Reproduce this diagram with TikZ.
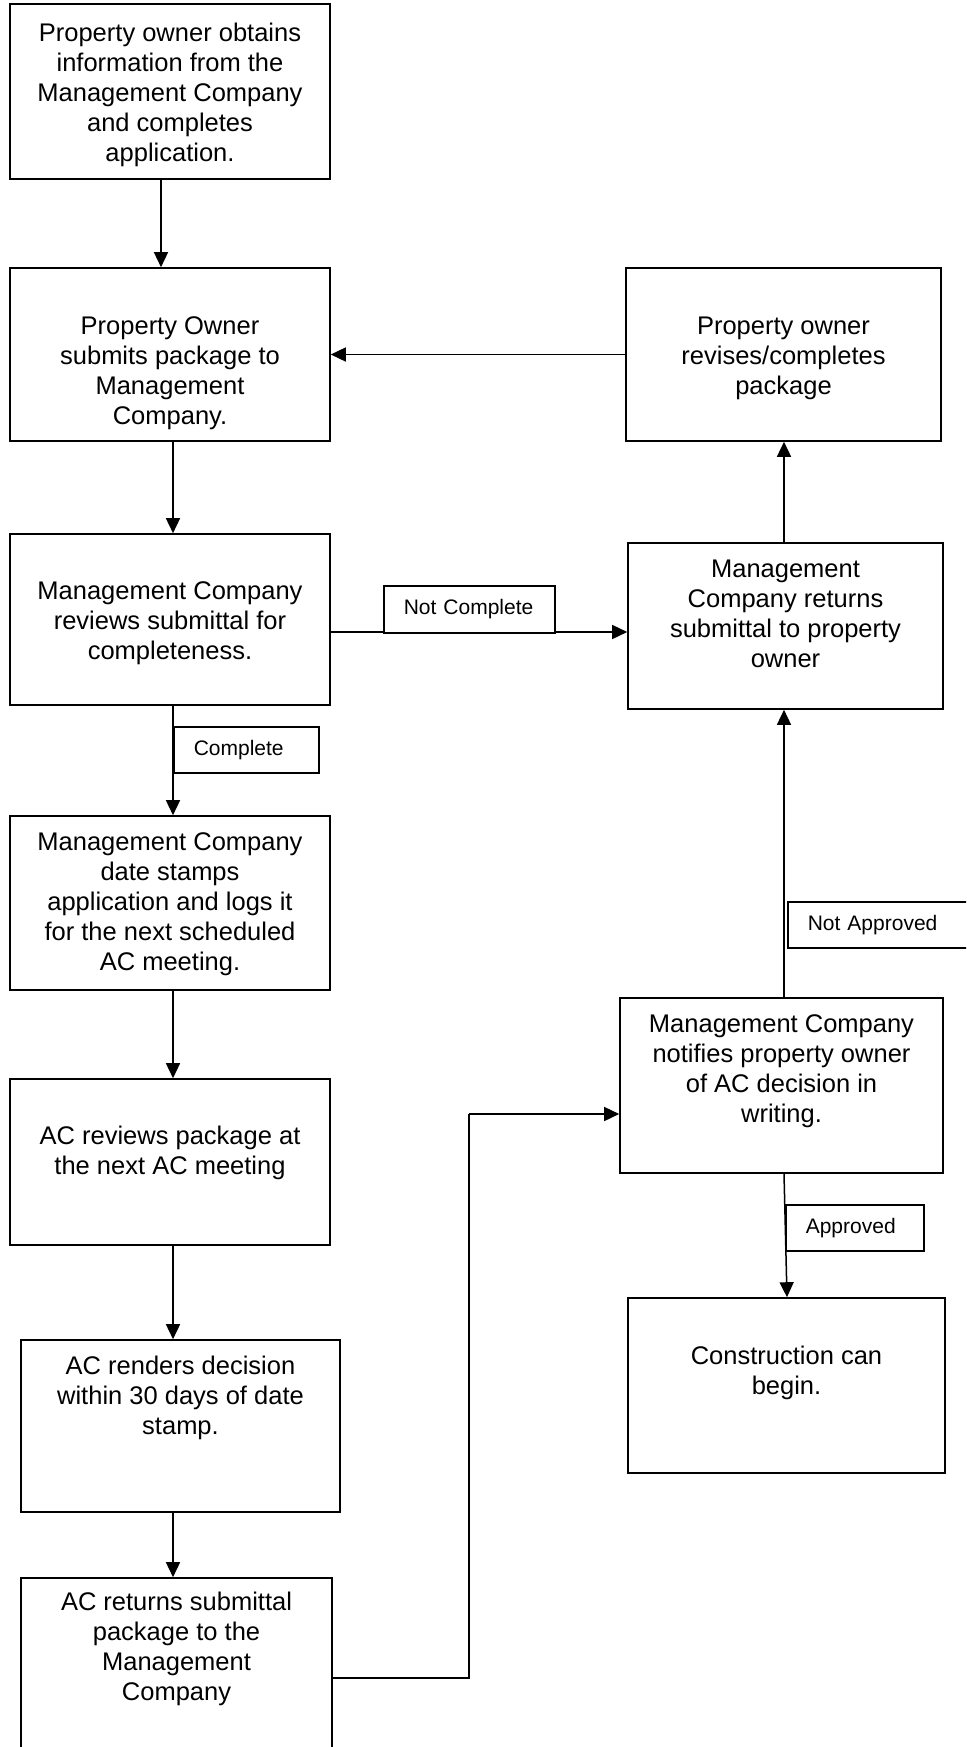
\documentclass[tikz,border=0pt]{standalone}
\usepackage{fontspec}
\setmainfont{Liberation Sans}
\usetikzlibrary{arrows.meta}
\tikzset{
  box/.style={draw, line width=1.6pt, rectangle, inner sep=0pt},
  txt/.style={align=center, font=\fontsize{25.5}{30}\selectfont, inner sep=0pt,
    execute at begin node=\strut, execute at end node=\strut},
  lab/.style={draw, line width=1.6pt, fill=white, font=\fontsize{21}{25}\selectfont,
    inner xsep=20pt, inner ysep=0pt, align=left, anchor=north west},
  arr/.style={line width=1.5pt, -{Triangle[length=15pt,width=14pt]}},
  ln/.style={line width=1.5pt},
}
\begin{document}
\begin{tikzpicture}[x=1pt,y=-1pt]
\useasboundingbox (0,0) rectangle (966,1747);
\clip (0,0) rectangle (966,1747);

% boxes
\node[box, minimum width=320pt, minimum height=175pt] (b1) at (170,91.5) {};
\node[box, minimum width=320pt, minimum height=173pt] (b2) at (170,354.5) {};
\node[box, minimum width=320pt, minimum height=171pt] (b3) at (170,619.5) {};
\node[box, minimum width=320pt, minimum height=174pt] (b4) at (170,903) {};
\node[box, minimum width=320pt, minimum height=166pt] (b5) at (170,1162) {};
\node[box, minimum width=319pt, minimum height=172pt] (b6) at (180.5,1426) {};
\node[box, minimum width=311pt, minimum height=182pt] (b7) at (176.5,1669) {};
\node[box, minimum width=315pt, minimum height=173pt] (rev) at (783.5,354.5) {};
\node[box, minimum width=315pt, minimum height=166pt] (ret) at (785.5,626) {};
\node[box, minimum width=323pt, minimum height=175pt] (ntf) at (781.5,1085.5) {};
\node[box, minimum width=317pt, minimum height=175pt] (cons) at (786.5,1385.5) {};

% texts
\node[txt] (t1) at (170,97) {Property owner obtains\\information from the\\Management Company\\and completes\\application.};
\node[txt] (t2) at (170,375) {Property Owner\\submits package to\\Management\\Company.};
\node[txt] (t3) at (170,625) {Management Company\\reviews submittal for\\completeness.};
\node[txt] (t4) at (170,906) {Management Company\\date stamps\\application and logs it\\for the next scheduled\\AC meeting.};
\node[txt] (t5) at (170,1155) {AC reviews package at\\the next AC meeting};
\node[txt] (t6) at (180.5,1400) {AC renders decision\\within 30 days of date\\stamp.};
\node[txt] (t7) at (176.5,1651) {AC returns submittal\\package to the\\Management\\Company};
\node[txt] (trev) at (783.5,360) {Property owner\\revises/completes\\package};
\node[txt] (tret) at (785.5,618) {Management\\Company returns\\submittal to property\\owner};
\node[txt] (tntf) at (781.5,1073) {Management Company\\notifies property owner\\of AC decision in\\writing.};
\node[txt] (tcons) at (786.5,1375) {Construction can\\begin.};

% connectors
\coordinate (colx) at (173,0);
\coordinate (bend) at (469,1114);
\draw[arr] ([xshift=-9pt]b1.south) -- ([xshift=-9pt]b2.north);
\draw[arr] (colx |- b2.south) -- (colx |- b3.north);
\draw[arr] (colx |- b3.south) -- (colx |- b4.north);
\draw[arr] (colx |- b4.south) -- (colx |- b5.north);
\draw[arr] (colx |- b5.south) -- (colx |- b6.north);
\draw[arr] (colx |- b6.south) -- (colx |- b7.north);
\draw[arr] ([yshift=-12.5pt]b3.east) -- ([yshift=-12.5pt]b3.east -| ret.west);
\draw[arr] ([xshift=-1.5pt]ret.north) -- ([xshift=-1.5pt]ret.north |- rev.south);
\draw[arr] (rev.west) -- (b2.east);
\draw[ln] ([yshift=-9pt]b7.east) -| (bend);
\draw[arr] (bend) -- (bend -| ntf.west);
\draw[arr] ([xshift=2.5pt]ntf.north) -- ([xshift=2.5pt]ntf.north |- ret.south);
\draw[arr] ([xshift=2.5pt]ntf.south) -- ([xshift=0.5pt]cons.north);

% labels
\node[lab, text width=105pt, minimum height=46pt] (lc) at (173,726) {Complete};
\node[lab, text width=131pt, minimum height=47pt] (lnc) at (383,585) {Not Complete};
\node[lab, text width=148pt, minimum height=46pt] (lna) at (787,901) {Not Approved};
\node[lab, text width=98pt, minimum height=46pt] (lap) at (785,1204) {Approved};
\end{tikzpicture}
\end{document}
